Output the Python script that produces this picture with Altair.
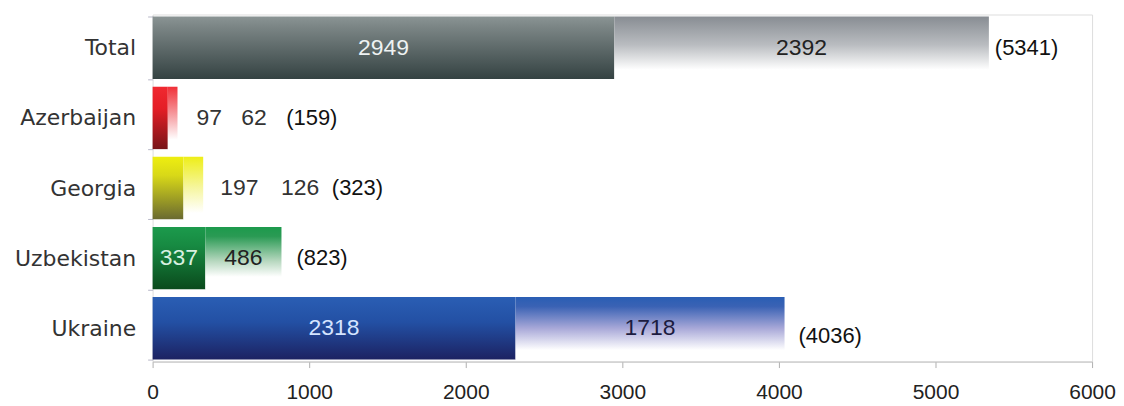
import altair as alt
import pandas as pd

countries = ["Total", "Azerbaijan", "Georgia", "Uzbekistan", "Ukraine"]
part1 = [2949, 97, 197, 337, 2318]
part2 = [2392, 62, 126, 486, 1718]
totals = [5341, 159, 323, 823, 4036]
x_ticks = [0, 1000, 2000, 3000, 4000, 5000, 6000]

df = pd.DataFrame({"country": countries, "p1": part1, "p2": part2, "total": totals})
df["end2"] = df["p1"] + df["p2"]
df["mid1"] = df["p1"] / 2
df["mid2"] = df["p1"] + df["p2"] / 2
df["lab1"] = df["p1"].astype(str)
df["lab2"] = df["p2"].astype(str)
df["labt"] = "(" + df["total"].astype(str) + ")"

FONT = "Liberation Sans"

y_enc = alt.Y(
    "country:N",
    sort=countries,
    title=None,
    scale=alt.Scale(paddingInner=0.11, paddingOuter=0.03),
    axis=alt.Axis(
        labelFont="DejaVu Sans", labelFontSize=22, labelColor="#333333",
        labelPadding=12, tickBand="extent", tickSize=5, tickColor="#b8b8c8",
        domain=False, minExtent=145, maxExtent=145,
    ),
)


def xq(field):
    return alt.X(
        field,
        title=None,
        scale=alt.Scale(domain=[0, 6000], nice=False),
        axis=alt.Axis(
            values=x_ticks, format="d", labelFont=FONT, labelFontSize=21,
            labelColor="#222222", tickSize=6, tickColor="#b0b0b0",
            domainColor="#c0c0c0", labelPadding=14, grid=False, labelFlush=False,
        ),
    )


def grad(stops):
    return alt.Gradient(
        gradient="linear",
        stops=[alt.GradientStop(offset=o, color=c) for o, c in stops],
        x1=0, x2=0, y1=0, y2=1,
    )


styles = {
    "Total": (
        [(0, "#8a9494"), (0.15, "#7c8686"), (1, "#344242")],
        [(0, "#888d93"), (0.45, "#b9bcc0"), (0.85, "#ffffff"), (1, "#ffffff")],
    ),
    "Azerbaijan": (
        [(0, "#f02830"), (0.35, "#e41e26"), (1, "#781418")],
        [(0, "#f03038"), (0.5, "#f7a8ac"), (0.85, "#ffffff"), (1, "#ffffff")],
    ),
    "Georgia": (
        [(0, "#eeee10"), (0.3, "#d8d818"), (1, "#6a6a30")],
        [(0, "#eeee18"), (0.5, "#f6f6a0"), (0.9, "#ffffff"), (1, "#ffffff")],
    ),
    "Uzbekistan": (
        [(0, "#1c9a4c"), (0.3, "#178a42"), (1, "#0a4a1c")],
        [(0, "#1c9a4c"), (0.15, "#2a9a54"), (0.55, "#b8d8c0"), (0.8, "#ffffff"), (1, "#ffffff")],
    ),
    "Ukraine": (
        [(0, "#2a5eb4"), (0.4, "#2350a4"), (1, "#1c2262")],
        [(0, "#2a5eb4"), (0.15, "#3a62b4"), (0.5, "#a8a8d8"), (0.85, "#ffffff"), (1, "#ffffff")],
    ),
}

base = alt.Chart(df)
layers = []
for c in countries:
    s1, s2 = styles[c]
    sub = base.transform_filter(alt.datum.country == c)
    layers.append(sub.mark_bar(color=grad(s1)).encode(y=y_enc, x=xq("p1:Q")))
    layers.append(sub.mark_bar(color=grad(s2)).encode(y=y_enc, x=xq("p1:Q"), x2="end2:Q"))


def txt(c, xfield, tfield, align="center", dx=0, dy=0, color="#222222", size=23):
    return (
        base.transform_filter(alt.datum.country == c)
        .mark_text(align=align, baseline="middle", dx=dx, dy=dy, font=FONT,
                   fontSize=size, color=color)
        .encode(y=y_enc, x=xq(xfield), text=tfield)
    )


# Total
layers.append(txt("Total", "mid1:Q", "lab1:N", color="#eef2f2"))
layers.append(txt("Total", "mid2:Q", "lab2:N", color="#222222"))
layers.append(txt("Total", "total:Q", "labt:N", align="left", dx=6, color="#111111", size=22))
# Azerbaijan
layers.append(txt("Azerbaijan", "total:Q", "lab1:N", align="left", dx=19, color="#333333"))
layers.append(txt("Azerbaijan", "total:Q", "lab2:N", align="left", dx=64, color="#333333"))
layers.append(txt("Azerbaijan", "total:Q", "labt:N", align="left", dx=109, color="#111111", size=22))
# Georgia
layers.append(txt("Georgia", "total:Q", "lab1:N", align="left", dx=17, color="#333333"))
layers.append(txt("Georgia", "total:Q", "lab2:N", align="left", dx=78, color="#333333"))
layers.append(txt("Georgia", "total:Q", "labt:N", align="left", dx=129, color="#111111", size=22))
# Uzbekistan
layers.append(txt("Uzbekistan", "mid1:Q", "lab1:N", color="#d8f0e0"))
layers.append(txt("Uzbekistan", "mid2:Q", "lab2:N", color="#222222"))
layers.append(txt("Uzbekistan", "total:Q", "labt:N", align="left", dx=15, color="#111111", size=22))
# Ukraine
layers.append(txt("Ukraine", "mid1:Q", "lab1:N", color="#d4e4ff"))
layers.append(txt("Ukraine", "mid2:Q", "lab2:N", color="#1c1c40"))
layers.append(txt("Ukraine", "total:Q", "labt:N", align="left", dx=14, dy=8, color="#111111", size=22))

chart = (
    alt.layer(*layers)
    .properties(width=942, height=348, padding={"left": 0, "top": -5, "right": 0, "bottom": 0})
    .configure_view(fill="#f6f6f6", stroke=None)
    .configure(background="#ffffff")
)

chart.save("out.html", embed_options={"renderer": "svg", "actions": False})
